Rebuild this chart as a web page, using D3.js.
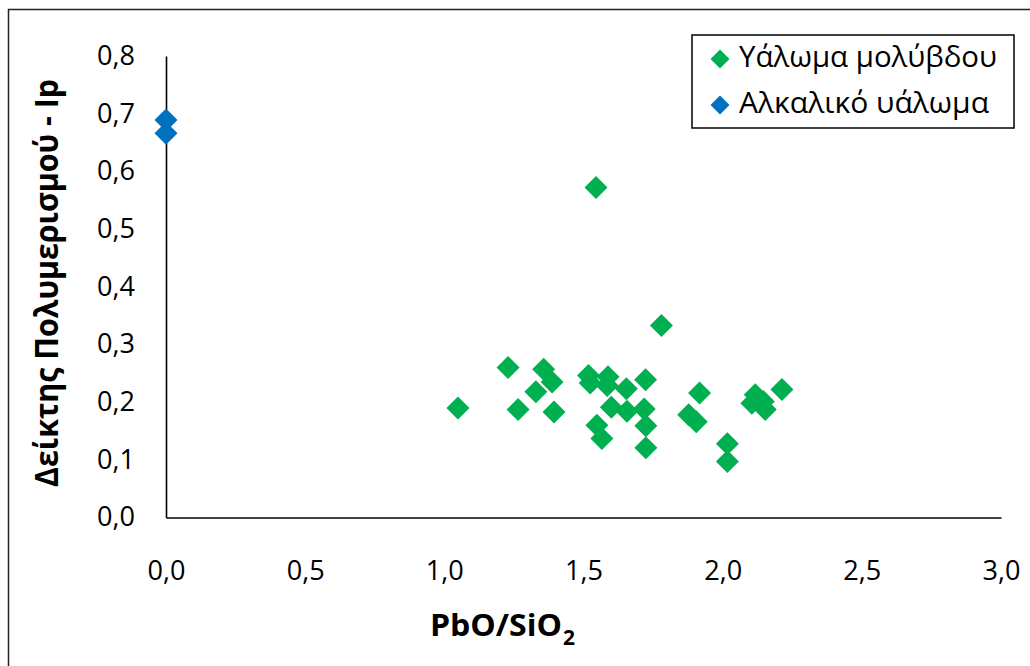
<!DOCTYPE html>
<html>
<head>
<meta charset="utf-8">
<script src="https://cdn.jsdelivr.net/npm/d3@7"></script>
<style>
  html, body { margin: 0; padding: 0; background: #fff; }
  svg { display: block; }
  text { font-family: "Open Sans", "Noto Sans", sans-serif; fill: #000; }
</style>
</head>
<body>
<svg id="chart" width="1030" height="666"></svg>
<script>
// Lead glass samples: PbO/SiO2 ratio vs polymerisation index Ip
const leadRatio = [1.049, 1.229, 1.265, 1.329, 1.357, 1.387, 1.394, 1.518, 1.524, 1.588,
                   1.585, 1.654, 1.723, 1.600, 1.656, 1.718, 1.548, 1.566, 1.724, 1.724,
                   1.545, 1.780, 1.917, 1.878, 1.905, 2.017, 2.017, 2.117, 2.105, 2.146,
                   2.153, 2.213];
const leadIp    = [0.190, 0.260, 0.187, 0.218, 0.257, 0.235, 0.183, 0.246, 0.233, 0.244,
                   0.229, 0.223, 0.239, 0.191, 0.184, 0.188, 0.160, 0.137, 0.159, 0.121,
                   0.572, 0.333, 0.216, 0.178, 0.166, 0.128, 0.097, 0.213, 0.198, 0.201,
                   0.187, 0.222];
// Alkali glass samples
const alkRatio = [0.0, 0.0];
const alkIp    = [0.689, 0.666];

const seriesNames = ["Υάλωμα μολύβδου", "Αλκαλικό υάλωμα"];
const seriesColors = ["#00B050", "#0070C0"];

const xTicks = [0, 0.5, 1, 1.5, 2, 2.5, 3];
const yTicks = [0, 0.1, 0.2, 0.3, 0.4, 0.5, 0.6, 0.7, 0.8];
const xTitle = "PbO/SiO";
const xTitleSub = "2";
const yTitle = "Δείκτης Πολυμερισμού - Ip";

const svg = d3.select("#chart");
const fmt = d => d.toFixed(1).replace(".", ",");

// outer chart frame
svg.append("rect")
  .attr("x", 8.5).attr("y", 9.5).attr("width", 1100).attr("height", 1100)
  .attr("fill", "none").attr("stroke", "#222").attr("stroke-width", 1.5);

const x = d3.scaleLinear().domain([0, 3]).range([166, 1001]);
const y = d3.scaleLinear().domain([0, 0.8]).range([517.5, 56]);

// axes without tick marks
const gx = svg.append("g").attr("transform", `translate(0,${y(0)})`)
  .call(d3.axisBottom(x).tickValues(xTicks).tickFormat(fmt).tickSize(0).tickPadding(44));
const gy = svg.append("g").attr("transform", `translate(${x(0)},0)`)
  .call(d3.axisLeft(y).tickValues(yTicks).tickFormat(fmt).tickSize(0).tickPadding(31));
[gx, gy].forEach(g => {
  g.select(".domain").attr("stroke", "#000").attr("stroke-width", 1.6);
  g.selectAll("text").attr("font-family", "\"Open Sans\", sans-serif").attr("font-size", 26.5).attr("fill", "#000")
    .attr("textLength", 38).attr("lengthAdjust", "spacingAndGlyphs");
});

// diamond marker path, half-diagonal r
const diamond = r => `M0,${-r}L${r},0L0,${r}L${-r},0Z`;

const plot = svg.append("g");
plot.selectAll("path.lead")
  .data(d3.zip(leadRatio, leadIp))
  .join("path").attr("class", "lead")
  .attr("d", diamond(11.5))
  .attr("transform", d => `translate(${x(d[0])},${y(d[1])})`)
  .attr("fill", seriesColors[0]);
plot.selectAll("path.alk")
  .data(d3.zip(alkRatio, alkIp))
  .join("path").attr("class", "alk")
  .attr("d", diamond(11.5))
  .attr("transform", d => `translate(${x(d[0])},${y(d[1])})`)
  .attr("fill", seriesColors[1]);

// axis titles
svg.append("text")
  .attr("x", 430).attr("y", 636)
  .attr("font-weight", "bold").attr("font-size", 31)
  .attr("textLength", 132).attr("lengthAdjust", "spacingAndGlyphs")
  .text(xTitle);
svg.append("text")
  .attr("x", 563).attr("y", 645)
  .attr("font-weight", "bold").attr("font-size", 21)
  .attr("textLength", 12).attr("lengthAdjust", "spacingAndGlyphs")
  .text(xTitleSub);

svg.append("text")
  .attr("transform", "translate(58,487) rotate(-90)")
  .attr("font-weight", "bold").attr("font-size", 33)
  .attr("textLength", 408).attr("lengthAdjust", "spacingAndGlyphs")
  .text(yTitle);

// legend
const lg = svg.append("g");
lg.append("rect")
  .attr("x", 692).attr("y", 35).attr("width", 322).attr("height", 93)
  .attr("fill", "#fff").attr("stroke", "#000").attr("stroke-width", 1.5);
const rows = [
  { name: seriesNames[0], color: seriesColors[0], cy: 59, base: 67, w: 258 },
  { name: seriesNames[1], color: seriesColors[1], cy: 105, base: 113, w: 250 }
];
rows.forEach(r => {
  lg.append("path").attr("d", diamond(9.5))
    .attr("transform", `translate(720,${r.cy})`).attr("fill", r.color);
  lg.append("text").attr("x", 739).attr("y", r.base)
    .attr("font-size", 29.5)
    .attr("textLength", r.w).attr("lengthAdjust", "spacingAndGlyphs")
    .text(r.name);
});
</script>
</body>
</html>
